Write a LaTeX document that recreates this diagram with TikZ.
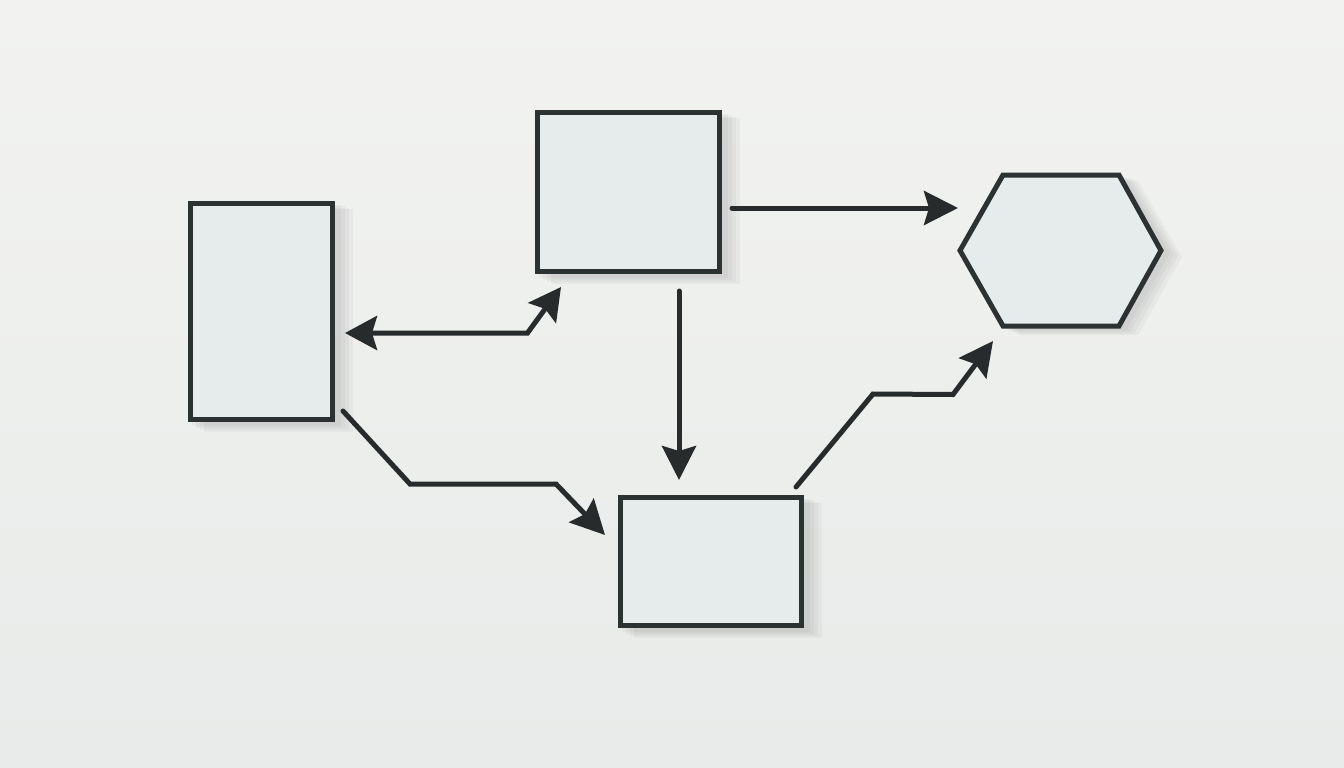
\documentclass[tikz,border=0pt]{standalone}
\usetikzlibrary{arrows.meta,calc}
\definecolor{wallA}{HTML}{F2F3F1}
\definecolor{wallB}{HTML}{E8EBE9}
\definecolor{frameC}{HTML}{2C3131}
\definecolor{glassC}{HTML}{E6EBEB}
\definecolor{arrowC}{HTML}{272B2B}
\begin{document}
\begin{tikzpicture}[x=1pt,y=-1pt,
  framebox/.style={draw=frameC,line width=5pt,fill=glassC,inner sep=0pt,outer sep=0pt,rectangle},
  ghost/.style={draw=none,inner sep=0pt,outer sep=0pt,rectangle},
  conn/.style={draw=arrowC,line width=5pt,line cap=round,line join=miter},
  tipend/.style={-{Stealth[length=34pt,width=34pt,inset=5pt]}},
  tipboth/.style={{Stealth[length=32pt,width=34pt,inset=5pt]}-{Stealth[length=32pt,width=34pt,inset=5pt]}},
  shade1/.style={fill=black,opacity=0.03}
]
% wall
\path[top color=wallA,bottom color=wallB] (0,0) rectangle (1344,768);
\useasboundingbox (0,0) rectangle (1344,768);

% soft shadows
\foreach \d in {4,8,12,16}{
  \fill[shade1] (188+\d,203+\d*0.4) rectangle (337+\d,424+\d*0.5);
  \fill[shade1] (535+\d,112+\d*0.4) rectangle (724+\d,276+\d*0.5);
  \fill[shade1] (618+\d,497+\d*0.4) rectangle (806+\d,630+\d*0.5);
  \fill[shade1] (960+\d,252+\d*0.3) -- (1004+\d,176+\d*0.3) -- (1122+\d,176+\d*0.3) -- (1166+\d,252+\d*0.3) -- (1122+\d,329+\d*0.4) -- (1004+\d,329+\d*0.4) -- cycle;
}

% frames
\node[framebox,minimum width=142pt,minimum height=216pt] (left) at (261.5,311.5) {};
\node[framebox,minimum width=182pt,minimum height=159pt] (top) at (628.5,192) {};
\node[framebox,minimum width=181pt,minimum height=128pt] (bottom) at (711,561.5) {};
\node[ghost,minimum width=201pt,minimum height=151pt] (hex) at (1060.5,250.5) {};
\draw[framebox] (hex.west) -- ($(hex.north west)+(43,0)$) -- ($(hex.north east)+(-42,0)$)
  -- (hex.east) -- ($(hex.south east)+(-42,0)$) -- ($(hex.south west)+(43,0)$) -- cycle;

% connectors
\draw[conn,tipend] ($(top.east)+(12.5,16)$) -- ($(hex.west)+(-2,-42.5)$);
\draw[conn,tipend] ($(top.south)+(50.5,19.5)$) -- ($(bottom.north)+(-32,-17.5)$);
\coordinate (b1) at ($(top.south west)+(-10,61.5)$);
\draw[conn,tipboth] ($(left.east)+(12.5,21.5)$) -- (b1) -- ($(top.south west)+(23.5,15.5)$);
\coordinate (b2) at ($(left.south east)+(77.5,64.5)$);
\coordinate (b3) at ($(bottom.west)+(-64.5,-77.5)$);
\draw[conn,tipend] ($(left.south east)+(10.5,-8.5)$) -- (b2) -- (b3) -- ($(bottom.west)+(-15.5,-26.5)$);
\coordinate (b4) at ($(bottom.north east)+(71.5,-103.5)$);
\coordinate (b5) at ($(hex.south west)+(-7,68.5)$);
\draw[conn,tipend] ($(bottom.north east)+(-5.5,-10.5)$) -- (b4) -- (b5) -- ($(hex.south west)+(33,15)$);
\end{tikzpicture}
\end{document}
